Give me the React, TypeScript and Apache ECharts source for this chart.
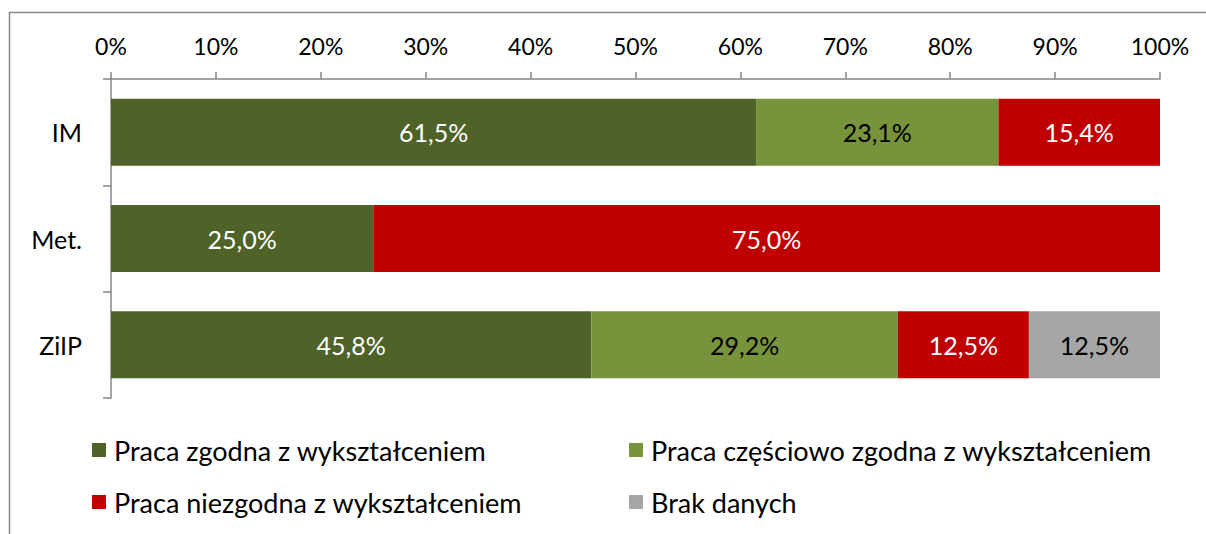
import React, { useEffect, useRef } from "react";
import * as echarts from "echarts";

const categories = ["IM", "Met.", "ZiIP"];
const seriesNames = [
  "Praca zgodna z wykształceniem",
  "Praca częściowo zgodna z wykształceniem",
  "Praca niezgodna z wykształceniem",
  "Brak danych",
];
const zgodna = [61.5, 25.0, 45.8];
const czesciowo = [23.1, 0, 29.2];
const niezgodna = [15.4, 75.0, 12.5];
const brak = [0, 0, 12.5];
const xTicks = [0, 10, 20, 30, 40, 50, 60, 70, 80, 90, 100];

const colors = ["#4F6228", "#77933C", "#C00000", "#A6A6A6"];
const labelColors = ["#FFFFFF", "#000000", "#FFFFFF", "#000000"];
const FONT = "Lato, 'Open Sans', sans-serif";

export default function App() {
  const ref = useRef<HTMLDivElement>(null);
  useEffect(() => {
    if (!ref.current) return;
    const chart = echarts.init(ref.current, null, { renderer: "svg" });
    const values = [zgodna, czesciowo, niezgodna, brak];
    const axisColor = "#868686";
    const legendText = {
      fontSize: 27,
      lineHeight: 30,
      color: "#000",
      fontFamily: FONT,
      padding: [0, 0, 0, 3],
    };
    chart.setOption({
      animation: false,
      textStyle: { fontFamily: FONT },
      grid: { left: 111, right: 46, top: 79, bottom: 136, containLabel: false },
      xAxis: {
        type: "value",
        position: "top",
        min: xTicks[0],
        max: xTicks[xTicks.length - 1],
        interval: 10,
        axisLine: { show: true, lineStyle: { color: axisColor, width: 1.5 } },
        axisTick: { show: true, length: 7, lineStyle: { color: axisColor, width: 1.5 } },
        splitLine: { show: false },
        axisLabel: {
          formatter: (v: number) => v + "%",
          fontSize: 23,
          color: "#000",
          margin: 22,
          fontFamily: FONT,
        },
      },
      yAxis: {
        type: "category",
        inverse: true,
        data: categories,
        axisLine: { show: true, lineStyle: { color: axisColor, width: 1.5 } },
        axisTick: { show: true, length: 8, lineStyle: { color: axisColor, width: 1.5 } },
        axisLabel: { fontSize: 25, color: "#000", margin: 29, fontFamily: FONT },
      },
      legend: [
        {
          data: [seriesNames[0], seriesNames[2]],
          orient: "vertical",
          left: 87,
          top: 430,
          itemWidth: 14,
          itemHeight: 14,
          itemGap: 22,
          icon: "rect",
          textStyle: legendText,
        },
        {
          data: [seriesNames[1], seriesNames[3]],
          orient: "vertical",
          left: 624,
          top: 430,
          itemWidth: 14,
          itemHeight: 14,
          itemGap: 22,
          icon: "rect",
          textStyle: legendText,
        },
      ],
      graphic: [
        {
          type: "line",
          shape: { x1: 9.5, y1: 12, x2: 9.5, y2: 534 },
          style: { stroke: "#898989", lineWidth: 1.5 },
        },
        {
          type: "line",
          shape: { x1: 9, y1: 12.5, x2: 1206, y2: 12.5 },
          style: { stroke: "#898989", lineWidth: 1.5 },
        },
      ],
      series: seriesNames.map((name, i) => ({
        name,
        type: "bar",
        stack: "total",
        barCategoryGap: "37%",
        itemStyle: { color: colors[i] },
        label: {
          show: true,
          position: "inside",
          fontSize: 25,
          color: labelColors[i],
          fontFamily: FONT,
          formatter: (p: any) =>
            p.value > 0 ? p.value.toFixed(1).replace(".", ",") + "%" : "",
        },
        data: values[i],
      })),
    });
    return () => chart.dispose();
  }, []);
  return (
    <div
      ref={ref}
      style={{ position: "fixed", left: 0, top: 0, width: 1206, height: 534, background: "#fff" }}
    />
  );
}
